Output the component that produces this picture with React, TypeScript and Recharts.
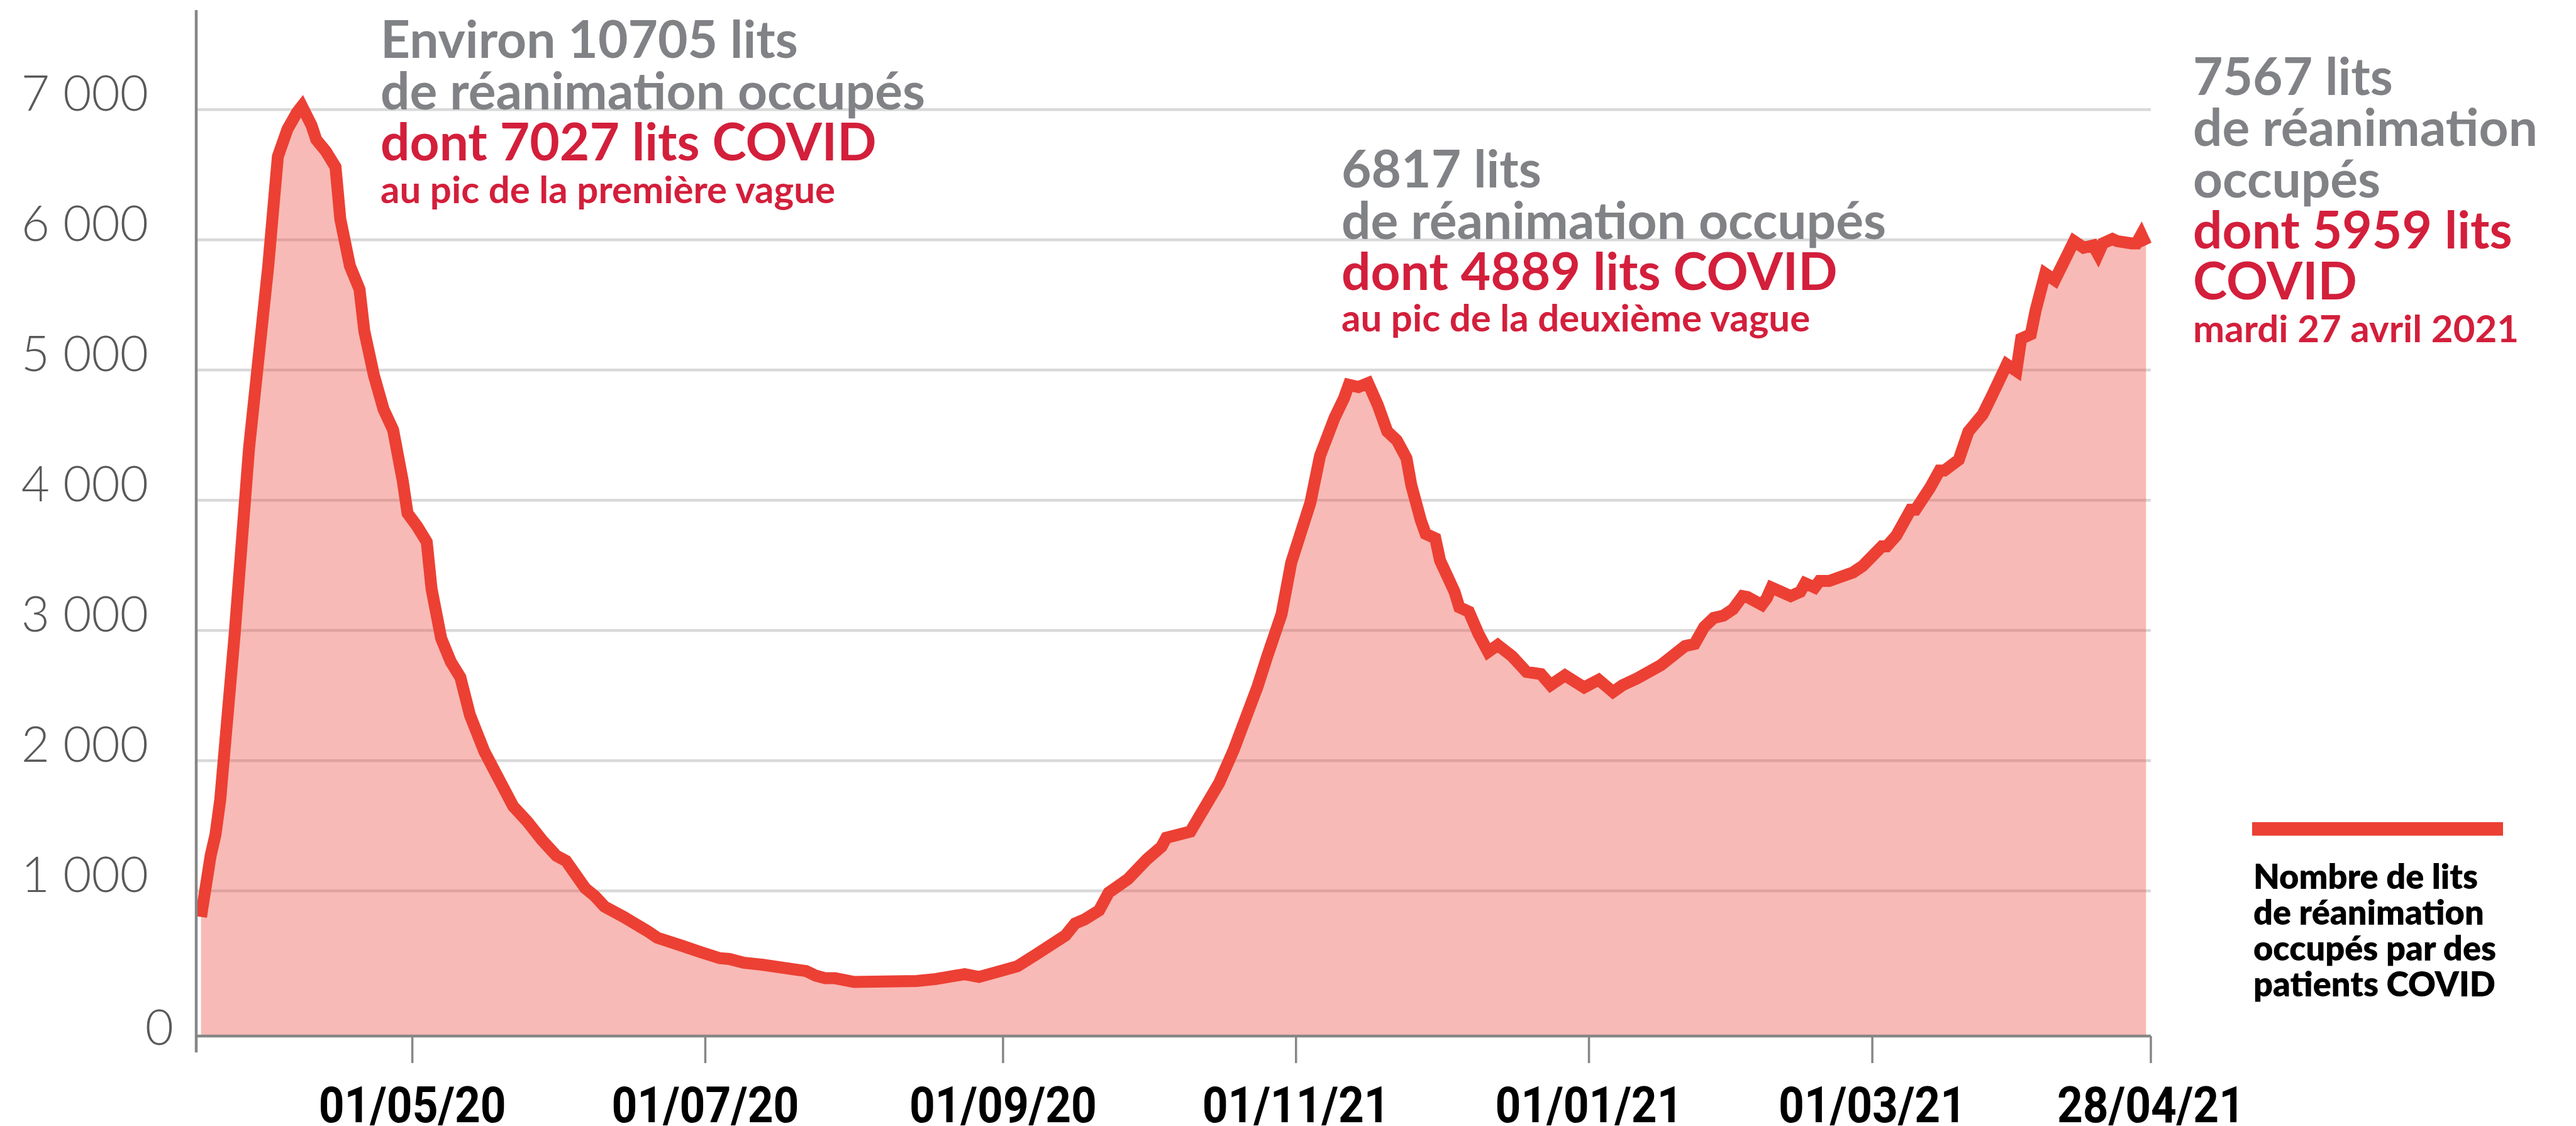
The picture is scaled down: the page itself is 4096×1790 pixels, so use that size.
import React from "react";
import { AreaChart, Area, XAxis, YAxis, CartesianGrid, Legend } from "recharts";

// jours écoulés depuis le 17/03/2020
const dayIndex = [
  1, 3, 4, 5, 8, 11, 15, 17, 19, 21, 22, 24, 25, 27, 29, 30, 32, 34, 35, 37, 39, 41, 43, 44, 46, 48, 49,
  51, 53, 55, 57, 60, 62, 66, 69, 72, 75, 77, 81, 83, 85, 89, 94, 96, 101, 105, 109, 111, 114, 118, 127,
  129, 131, 133, 137, 150, 154, 160, 163, 171, 175, 181, 183, 185, 188, 190, 194, 198, 201, 202, 207, 213,
  216, 221, 223, 226, 228, 232, 234, 237, 239, 240, 242, 244, 246, 248, 250, 252, 253, 255, 256, 258, 259,
  262, 263, 265, 267, 269, 271, 274, 277, 280, 282, 285, 289, 292, 295, 297, 300, 305, 310, 312, 314, 316,
  318, 320, 322, 323, 326, 327, 328, 330, 332, 334, 335, 337, 338, 340, 345, 347, 351, 352, 354, 357, 358,
  361, 363, 364, 367, 369, 372, 374, 377, 379, 380, 382, 383, 385, 387, 389, 391, 393, 395, 396, 397, 399,
  400, 403, 404, 405, 406,
];

// lits de réanimation occupés par des patients COVID
const icuCovid = [
  800, 1270, 1430, 1700, 2970, 4400, 5800, 6640, 6850, 6980, 7027, 6880, 6770, 6680, 6560, 6160, 5800, 5620,
  5300, 4960, 4700, 4540, 4150, 3900, 3800, 3680, 3320, 2940, 2760, 2640, 2350, 2070, 1930, 1650, 1530, 1390,
  1270, 1230, 1020, 960, 880, 800, 690, 640, 580, 530, 483, 477, 448, 432, 384, 349, 329, 329, 300, 308, 323,
  360, 339, 421, 514, 658, 750, 781, 850, 987, 1090, 1244, 1340, 1408, 1455, 1829, 2080, 2570, 2800, 3127,
  3520, 3982, 4341, 4631, 4785, 4887, 4870, 4900, 4734, 4529, 4460, 4323, 4118, 3845, 3742, 3708, 3537, 3298,
  3178, 3144, 2973, 2836, 2888, 2802, 2682, 2665, 2580, 2655, 2563, 2621, 2528, 2580, 2631, 2734, 2880, 2897,
  3027, 3097, 3114, 3164, 3264, 3257, 3197, 3247, 3330, 3297, 3264, 3297, 3363, 3330, 3380, 3380, 3446, 3496,
  3646, 3646, 3729, 3928, 3928, 4095, 4228, 4228, 4311, 4527, 4660, 4810, 5043, 4993, 5242, 5275, 5458, 5741,
  5691, 5840, 5990, 5940, 5957, 5890, 5973, 6007, 5990, 5973, 5973, 6040, 5959,
];

const xTickDays = [45, 106, 168, 229, 290, 349, 407];
const xTickLabels = ["01/05/20", "01/07/20", "01/09/20", "01/11/21", "01/01/21", "01/03/21", "28/04/21"];
const yTicks = [0, 1000, 2000, 3000, 4000, 5000, 6000, 7000];
const yTickLabels = ["0", "1 000", "2 000", "3 000", "4 000", "5 000", "6 000", "7 000"];
const gridValues = [1000, 2000, 3000, 4000, 5000, 6000, 7000];
const legendLines = ["Nombre de lits", "de réanimation", "occupés par des", "patients COVID"];

const data = dayIndex.map((day, i) => ({ day, value: icuCovid[i] }));

const W = 4096;
const H = 1790;
const Y_DOMAIN = [-115, 7765];
const RED = "#ec4034";
const CRIMSON = "#d31f3b";
const GREY = "#808285";
const AXIS = "#868686";
const FONT = "Lato, 'Noto Sans', sans-serif";

function gridRows({ yAxis, offset }: any) {
  const s = yAxis?.scale;
  return gridValues.map((v) => {
    if (typeof s === "function") return s(v);
    if (s && typeof s.map === "function") return s.map(v);
    // repli : échelle linéaire sur la zone de tracé
    return offset.top + (offset.height * (Y_DOMAIN[1] - v)) / (Y_DOMAIN[1] - Y_DOMAIN[0]);
  });
}

function XTick(props: any) {
  const { x, y, payload } = props;
  const i = xTickDays.indexOf(payload.value);
  if (i < 0) {
    // prolongement de l'axe vertical sous l'axe des x
    return <line x1={x} x2={x} y1={y} y2={y + 26} stroke={AXIS} strokeWidth={4.5} />;
  }
  return (
    <g>
      <line x1={x} x2={x} y1={y} y2={y + 43} stroke={AXIS} strokeWidth={3.5} />
      <text
        x={x}
        y={y + 137}
        textAnchor="middle"
        fontFamily="Roboto, sans-serif"
        fontWeight={700}
        fontSize={80}
        fill="#000"
        textLength={298}
        lengthAdjust="spacingAndGlyphs"
      >
        {xTickLabels[i]}
      </text>
    </g>
  );
}

function YTick(props: any) {
  const { x, y, payload } = props;
  const v = payload.value;
  const zero = v === 0;
  return (
    <text
      x={zero ? x - 36 : x - 76}
      y={zero ? y + 38 : y + 2}
      textAnchor="end"
      fontFamily={FONT}
      fontWeight={300}
      fontSize={78}
      fill="#58595b"
    >
      {yTickLabels[yTicks.indexOf(v)]}
    </text>
  );
}

function LegendBox(props: any) {
  const color = props.payload?.[0]?.color || RED;
  return (
    <svg width={520} height={320}>
      <rect x={11} y={17} width={399} height={21.5} fill={color} />
      {legendLines.map((t, i) => (
        <text key={t} x={13} y={122.6 + i * 57} fontFamily={FONT} fontWeight={800} fontSize={54} fill="#000">
          {t}
        </text>
      ))}
    </svg>
  );
}

function Line({ x, y, size, color, children }: any) {
  return (
    <text x={x} y={y} fontFamily={FONT} fontWeight={700} fontSize={size} fill={color}>
      {children}
    </text>
  );
}

export default function App() {
  const big = 82;
  const small = 60;
  return (
    <div style={{ position: "absolute", left: 0, top: 0, width: W, height: H, overflow: "hidden", background: "#fff" }}>
      <AreaChart width={W} height={H} data={data} margin={{ top: 16, right: 676, bottom: 0, left: 0 }}>
        <CartesianGrid
          vertical={false}
          stroke="#d9d9d9"
          strokeWidth={4.5}
          horizontalCoordinatesGenerator={gridRows}
        />
        <XAxis
          dataKey="day"
          type="number"
          domain={[0, 407]}
          ticks={[0, ...xTickDays]}
          interval={0}
          height={143}
          tickSize={0}
          tickMargin={0}
          tickLine={false}
          axisLine={{ stroke: AXIS, strokeWidth: 4.5 }}
          tick={<XTick />}
        />
        <YAxis
          type="number"
          domain={Y_DOMAIN}
          ticks={yTicks}
          interval={0}
          width={312}
          tickSize={0}
          tickMargin={0}
          tickLine={false}
          axisLine={{ stroke: AXIS, strokeWidth: 4.5 }}
          tick={<YTick />}
        />
        <Area
          type="linear"
          dataKey="value"
          name="Nombre de lits de réanimation occupés par des patients COVID"
          stroke={RED}
          strokeWidth={19}
          strokeLinejoin="miter"
          fill={RED}
          fillOpacity={0.36}
          baseValue="dataMin"
          dot={false}
          activeDot={false}
          isAnimationActive={false}
        />
        <Legend
          layout="horizontal"
          verticalAlign="middle"
          align="center"
          wrapperStyle={{ position: "absolute", left: 3570, top: 1290, width: 520, height: 320 }}
          content={<LegendBox />}
        />
      </AreaChart>
      <svg
        width={W}
        height={H}
        style={{ position: "absolute", left: 0, top: 0, pointerEvents: "none" }}
      >
        <Line x={605} y={92} size={big} color={GREY}>Environ 10705 lits</Line>
        <Line x={605} y={173.5} size={big} color={GREY}>de réanimation occupés</Line>
        <Line x={605} y={255} size={big} color={CRIMSON}>dont 7027 lits COVID</Line>
        <Line x={605} y={322.5} size={small} color={CRIMSON}>au pic de la première vague</Line>

        <Line x={2133} y={298} size={big} color={GREY}>6817 lits</Line>
        <Line x={2133} y={379.5} size={big} color={GREY}>de réanimation occupés</Line>
        <Line x={2133} y={461} size={big} color={CRIMSON}>dont 4889 lits COVID</Line>
        <Line x={2133} y={527} size={small} color={CRIMSON}>au pic de la deuxième vague</Line>

        <Line x={3487} y={151} size={big} color={GREY}>7567 lits</Line>
        <Line x={3487} y={232} size={big} color={GREY}>de réanimation</Line>
        <Line x={3487} y={313.5} size={big} color={GREY}>occupés</Line>
        <Line x={3487} y={395} size={big} color={CRIMSON}>dont 5959 lits</Line>
        <Line x={3487} y={476} size={big} color={CRIMSON}>COVID</Line>
        <Line x={3487} y={544} size={small} color={CRIMSON}>mardi 27 avril 2021</Line>
      </svg>
    </div>
  );
}
